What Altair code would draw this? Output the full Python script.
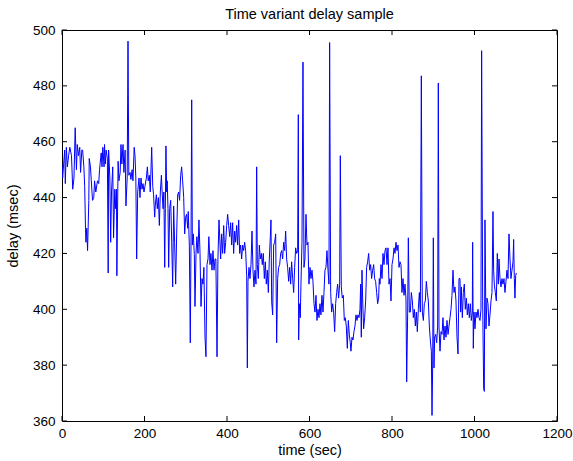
import altair as alt
import pandas as pd

# ---- data ----
TIME_SEC = [
    0, 1.6, 4, 6.5, 8, 10.5, 13, 16, 19, 23, 26, 29, 32, 35, 37, 40, 43, 45, 48, 50,
    53, 55, 57, 58, 60, 62, 65, 66, 69, 71, 74, 77, 79, 82, 86, 89, 91, 95, 97, 99,
    102, 103, 105, 107, 110, 112, 113, 116, 118, 120, 123, 125, 128, 130, 132, 133, 136, 138, 141, 143,
    145, 148, 150, 153, 155, 158, 160, 162, 165, 167, 170, 172, 175, 177, 179,
    181, 183.5, 186.7, 189, 191.5, 194, 196.4, 198.8, 201, 204.5,
    207, 209, 211.7, 214, 217.4, 220, 222, 224.7, 226, 228.7,
    231, 233.6, 236, 238.4, 241, 242.4, 245, 247, 249, 250.5,
    252, 253.8, 255, 257, 258.6, 261, 263.5, 266, 268.3, 270.7,
    273, 275.6, 278, 280.4, 282.8, 285, 287.7, 290, 292.5, 295,
    297.4, 299.8, 302, 304.7, 306, 308.7, 311, 312.7, 314.4, 316,
    318.4, 320.8, 322.4, 324.9, 327, 329.7, 332, 334.6, 337, 339.4,
    341.8, 344, 346.7, 349, 351.5, 354, 356, 358.8, 361, 363.6,
    366, 368.5, 371, 373, 375.8, 378, 380.6,
    384.6, 387, 389.5, 392, 394.3, 396.8, 399.2, 401.6, 404, 406.5,
    408.9, 411.3, 413.7, 416.1, 418.6, 421, 423.4, 425.8, 428.3, 430.7,
    433.1, 435.5, 438, 440.4, 442.8, 445.2, 447.7, 449.3, 450.9, 453.3,
    455.7, 458.2, 460.6, 463, 465.4, 467.9, 470.3, 471.9, 473.5, 475.9,
    478.4, 480.8, 483.2, 485.6, 488, 490.5, 492.9, 495.3, 497.8, 500.2,
    502.6, 505, 506.6, 508.3, 510.7, 513.1, 515.5, 518, 520.4, 522.8,
    525.2, 527.7, 530.1, 532.5, 534.9, 537.3, 539.8, 542.2, 544.6, 547,
    549.5, 551.9, 554.3, 556.7, 559.2, 561.6, 564, 566.4, 568.9, 571.3,
    572.9,
    573.7, 575.3, 577.7, 579.3, 581.8, 584.2, 586.6, 589, 591.5, 593.9,
    596.3, 598.7, 601.2, 603.6, 606, 608.4, 610.9, 613.3, 615.7, 618.1,
    620.6, 623, 625.4, 627.8, 630.2, 632.7, 635.1, 637.5, 639.9, 642.4,
    644.8, 647.2, 648.8, 651.3, 653.7, 656.1, 658.5, 661, 663.4, 665.8,
    668.2, 670.6, 673.1, 674.7, 677.1, 679.5, 682, 684.4, 686.8, 689.2,
    691.7, 694.1, 696.5, 698.9, 700.5, 703, 705.4, 707.8, 710.2, 712.7,
    715.1, 717.5, 719.9, 722.4, 724, 725.6, 727.2, 728.8, 731.2, 733.7,
    736.1, 738.5, 740.9, 743.4, 745.8, 748.2, 750.6, 753.1, 755.5, 757.9,
    760.3, 762.8, 765.2, 767.6, 769.2,
    770.9, 773.3, 775.8, 778.2, 780.6, 783, 785.5, 787.9, 790.3, 792.7,
    795.2, 797.6, 800, 802.4, 804.9, 807.3, 809.7, 812.1, 814.6, 817,
    819.4, 821.8, 824.2, 826.7, 829.1, 831.5, 833.9, 835.6, 838, 839.6,
    842, 844.4, 846.9, 849.3, 851.7, 854.1, 856.6, 859, 861.4, 863.8,
    866.3, 868.7, 871.1, 873.5, 876, 878.4, 880.8, 883.2, 885.7, 888.1,
    890.5, 892.9, 895.4, 897, 898.6, 900.2, 901.8, 903.4, 905.9, 908.3,
    910.7, 912.3, 913.9, 916.4, 918.8, 921.2, 923.6, 926.1, 928.5, 930.9,
    933.3, 935.8, 938.2, 940.6, 943, 945.4, 947.9, 950.3, 952.7, 955.1,
    957.6, 960, 962.4,
    964.8, 966.4, 968, 970.5, 972.9, 975.3, 977.7, 980.2, 982.6, 985,
    987.4, 989.9, 992.3, 994.7, 995.5, 997.1, 998.8, 1001.2, 1003.6, 1006,
    1008.5, 1010.9, 1013.3, 1015.7, 1017.3, 1019.8, 1022.2, 1023.8, 1025.4, 1027.8,
    1030.3, 1032.7, 1035.1, 1037.5, 1040, 1042.4, 1044.8, 1046.4, 1048, 1050.5,
    1052.9, 1055.3, 1057.7, 1059.4, 1061.8, 1064.2, 1066.6, 1069.1, 1071.5, 1073.9,
    1076.3, 1078.7, 1081.2, 1083.6, 1086, 1088.4, 1090.9, 1093.3, 1094.9, 1096.5,
    1098.1, 1099.8, 1101.4,
]

DELAY_MSEC = [
    452, 447, 452, 457, 445, 458, 451, 455, 458, 455, 443, 447, 465, 450, 459, 455, 458, 449, 457, 457,
    451, 444, 428.6, 424, 429, 421, 439, 454, 451, 446, 439, 440, 446, 442, 446, 445, 450, 456, 451, 458,
    451, 459, 452, 457, 454, 413, 457, 447, 424, 442, 451, 425.6, 443, 436, 443, 412, 453, 446, 449, 459,
    452, 459, 449, 457, 437, 447, 496, 448, 449, 446.5, 450, 446, 458, 455, 447,
    418, 442, 447, 440, 447, 443, 445, 442, 444, 447,
    451, 446, 448, 442, 458, 444, 441, 433, 437, 441,
    436, 440, 430, 442, 448, 443, 436, 442, 415, 436,
    458.5, 442, 446, 436, 415, 436, 439, 424, 408, 437,
    424, 409, 427, 441, 442, 439, 448, 451, 446, 440,
    427, 433, 434, 429, 435, 423, 388, 423, 475, 423,
    427, 419.6, 401, 420, 426, 420, 432, 420, 401, 411,
    409, 415, 390, 383, 416, 418, 426, 416, 420, 414,
    421, 414, 418, 418, 383, 418, 432,
    418, 427, 420, 430, 420, 424, 430, 434, 430, 426,
    431, 423, 431, 420, 428, 424, 430, 423, 432, 420,
    423, 418, 423, 421, 424, 421, 412, 379, 410, 415,
    411, 416, 428, 414, 408, 414, 409, 451, 416, 411,
    423, 418, 420, 416, 420, 411, 417, 409, 414, 406,
    418, 426, 432, 402.7, 398, 423, 424, 427, 388, 411,
    415, 416, 420, 421, 418, 424, 421, 428, 418, 415,
    410, 415, 409, 417, 411, 406, 415, 422, 420, 421,
    469.7,
    389, 402, 397, 409, 424, 488.5, 415, 418, 434, 423,
    424, 409, 415, 411, 414, 410, 402, 399, 405, 396,
    400, 397, 402, 398, 405, 399, 406, 414, 415, 421,
    414, 409, 495.5, 406, 399, 402, 399, 392, 402, 406,
    409, 404, 409, 455, 408, 404, 405, 396, 397, 394,
    386, 396, 391, 388, 385, 390, 389, 392, 394, 398,
    396, 398, 397, 400, 409, 390, 414, 404, 393, 397,
    403, 415, 417, 420, 414, 416, 411, 414, 416, 411,
    410, 406, 402, 404, 411,
    409, 416, 411, 420, 416, 421, 422, 416, 422, 409,
    411, 403, 416, 418, 422, 420, 424, 421, 423, 415,
    417, 416, 406, 411, 405, 409, 404, 374, 399, 425.6,
    399, 399, 406, 403, 397, 400, 394, 399, 392, 400,
    406, 399, 483.6, 399, 396, 402, 403, 410, 406, 403,
    394, 389, 385, 362, 380, 425.6, 379, 390, 391, 388,
    394, 481, 394, 385, 392, 391, 397, 389, 394, 390,
    396, 391, 394, 397, 400, 405, 414, 406, 408, 403,
    390, 384, 411,
    411, 399, 408, 397, 406, 409, 400, 404, 398, 402,
    397, 402, 396, 399, 424, 386, 399, 393, 399, 397,
    400, 397, 396, 400, 492.6, 403, 371.8, 370.6, 432, 393,
    404, 402, 394, 398, 403, 406, 435, 414, 409, 406,
    403, 420, 409, 418, 411, 408, 411, 409, 411, 406,
    410, 414, 411, 427, 418, 411, 414, 417, 425, 411,
    404, 412, 413,
]

X_TICKS = [0, 200, 400, 600, 800, 1000, 1200]
Y_TICKS = [360, 380, 400, 420, 440, 460, 480, 500]
CHART_TITLE = ["Time variant delay sample"]

FONT = "Liberation Sans"
W, H = 495, 391
TICK_LEN = 5

df = pd.DataFrame({"time": TIME_SEC, "delay": DELAY_MSEC})
xt = pd.DataFrame({"time": X_TICKS})
yt = pd.DataFrame({"delay": Y_TICKS})
tt = pd.DataFrame({"t": CHART_TITLE})

x_scale = alt.Scale(domain=[0, 1200], nice=False, zero=False)
y_scale = alt.Scale(domain=[360, 500], nice=False, zero=False)

x_axis = alt.Axis(
    values=X_TICKS, format="d", title="time (sec)", grid=False, domain=False, ticks=False,
    tickSize=0, labelPadding=5, labelFontSize=13.5, labelFont=FONT,
    labelColor="black", titleFont=FONT, titleFontSize=14.5,
    titleFontWeight="normal", titleColor="black", titlePadding=4,
    labelFlush=False,
)
y_axis = alt.Axis(
    values=Y_TICKS, format="d", title="delay (msec)", grid=False, domain=False, ticks=False,
    tickSize=0, labelPadding=7, labelFontSize=13.5, labelFont=FONT,
    labelColor="black", titleFont=FONT, titleFontSize=14.5,
    titleFontWeight="normal", titleColor="black", titlePadding=12,
    labelFlush=False,
)

X = lambda: alt.X("time:Q", scale=x_scale, axis=x_axis)
Y = lambda: alt.Y("delay:Q", scale=y_scale, axis=y_axis)

line = alt.Chart(df).mark_line(color="#0000ff", strokeWidth=1, clip=True).encode(
    x=X(), y=Y()
)

rule_style = dict(color="black", strokeWidth=1)
tick_bottom = alt.Chart(xt).mark_rule(**rule_style).encode(
    x=X(), y=alt.value(H), y2=alt.value(H - TICK_LEN)
)
tick_top = alt.Chart(xt).mark_rule(**rule_style).encode(
    x=X(), y=alt.value(0), y2=alt.value(TICK_LEN)
)
tick_left = alt.Chart(yt).mark_rule(**rule_style).encode(
    y=Y(), x=alt.value(0), x2=alt.value(TICK_LEN)
)
tick_right = alt.Chart(yt).mark_rule(**rule_style).encode(
    y=Y(), x=alt.value(W), x2=alt.value(W - TICK_LEN)
)

title = alt.Chart(tt).mark_text(
    font=FONT, fontSize=14.5, color="black", align="center", baseline="alphabetic"
).encode(text="t:N", x=alt.value(W / 2), y=alt.value(-11))

chart = (
    alt.layer(line, tick_bottom, tick_top, tick_left, tick_right, title)
    .properties(
        width=W,
        height=H,
        autosize=alt.AutoSizeParams(type="none"),
        padding={"left": 62, "top": 30, "right": 16, "bottom": 40},
        background="white",
    )
    .configure_view(stroke="black", strokeWidth=1)
)

chart.save("out.html", embed_options={"renderer": "svg", "actions": False})
